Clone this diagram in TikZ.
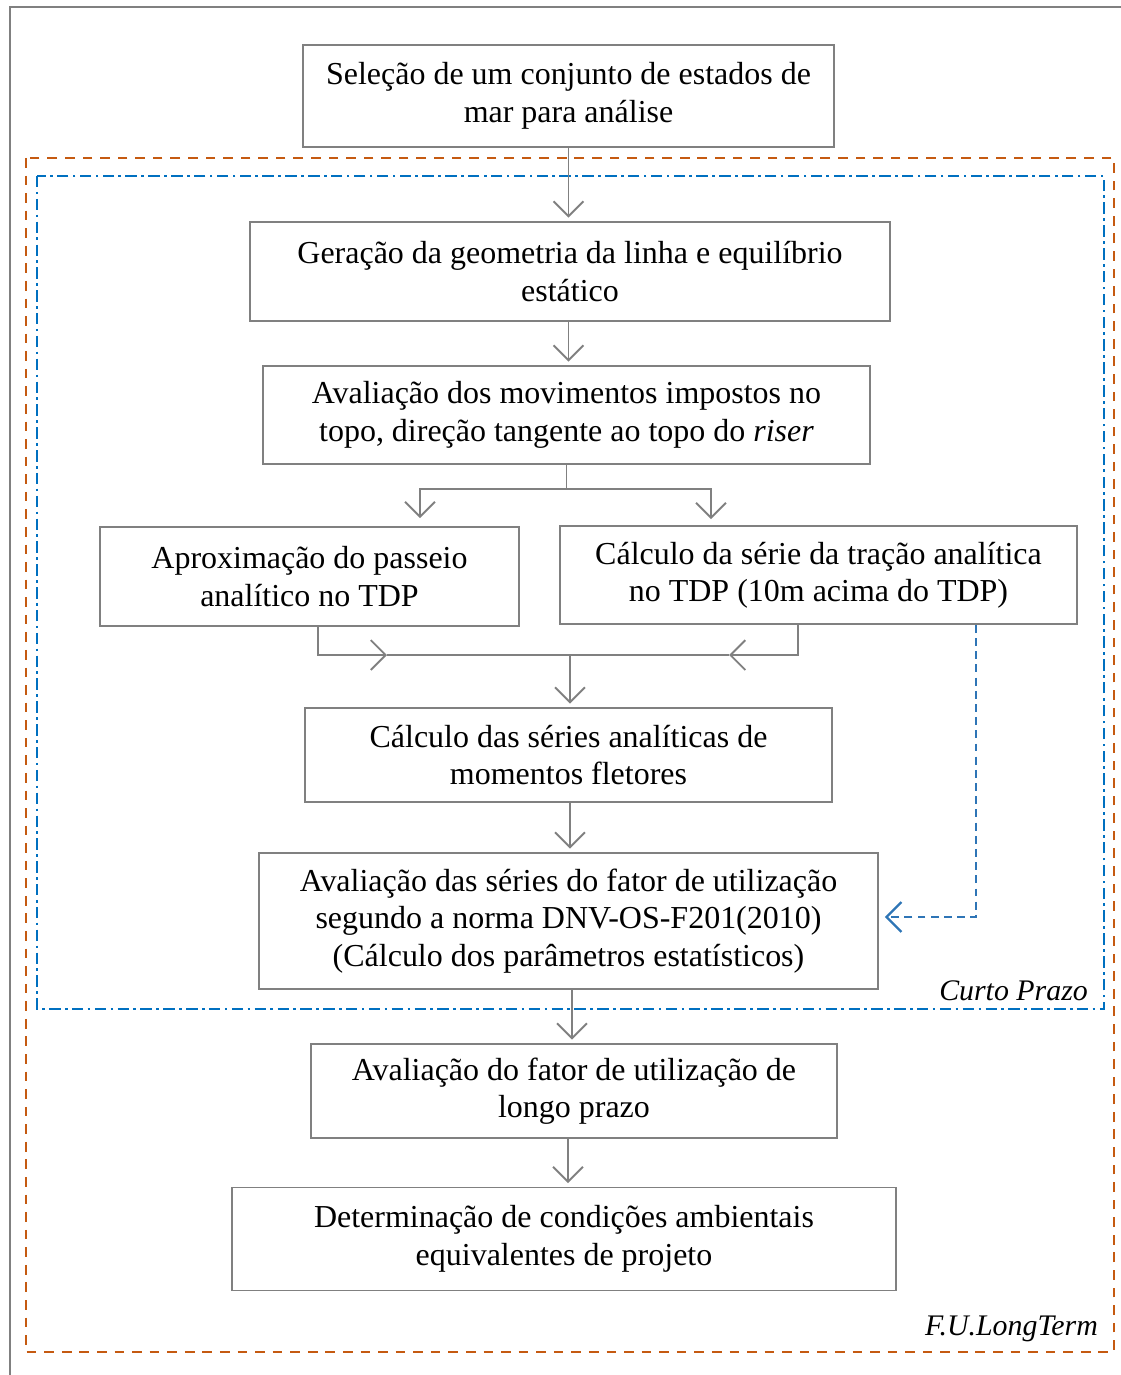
\documentclass[tikz,border=0pt]{standalone}
\usepackage{fontspec}
\setmainfont{Liberation Serif}
\usepackage{xcolor}
\definecolor{fxgray}{RGB}{128,128,128}
\definecolor{fxorange}{RGB}{197,90,17}
\definecolor{fxblue}{RGB}{0,112,192}
\definecolor{fxsteel}{RGB}{46,117,182}
\usetikzlibrary{arrows.meta,positioning,calc}
\tikzset{
  stepbox/.style={draw=fxgray, line width=1.1pt, fill=white, align=center, inner sep=2pt,
    font=\fontsize{18.2}{21.3}\selectfont},
  link/.style={draw=fxgray, line width=1.1pt},
  arr/.style={link, -{Straight Barb[length=8.5pt,width=17pt,line width=1.1pt]}, shorten >=2pt},
  fback/.style={draw=fxsteel, line width=1.3pt, dash pattern=on 4.5pt off 3pt,
    -{Straight Barb[length=8.5pt,width=17pt,line width=1.3pt]}},
  tag/.style={anchor=base east, font=\fontsize{17}{21}\selectfont\itshape}
}
\begin{document}
\begin{tikzpicture}[x=0.02cm, y=-0.02cm]
  \useasboundingbox (0,0) rectangle (1121,1375);

  % Page frame
  \draw[fxgray, line width=1.1pt] (10,1375) -- (10,7) -- (1121,7);

  % Long term and short term regions
  \draw[fxorange, line width=1.4pt, dash pattern=on 5.5pt off 4.5pt] (26,158) rectangle (1114,1352);
  \draw[fxblue, line width=1.3pt, dash pattern=on 6.5pt off 2.5pt on 1.5pt off 2.5pt] (37,176) rectangle (1104,1009);

  % Step boxes
  \node[stepbox, minimum width=10.62cm, minimum height=2.04cm] (s1) at (568.5,96) {Seleção de um conjunto de estados de\\mar para análise};
  \node[stepbox, minimum width=12.8cm, minimum height=1.98cm] (s2) at (570,271.5) {Geração da geometria da linha e equilíbrio\\estático};
  \node[stepbox, minimum width=12.14cm, minimum height=1.96cm] (s3) at (566.5,415) {Avaliação dos movimentos impostos no\\topo, direção tangente ao topo do \textit{riser}};
  \node[stepbox, minimum width=8.38cm, minimum height=1.98cm] (s4) at (309.5,576.5) {Aproximação do passeio\\analítico no TDP};
  \node[stepbox, minimum width=10.34cm, minimum height=1.96cm] (s5) at (818.5,575) {Cálculo da série da tração analítica\\no TDP (10m acima do TDP)};
  \node[stepbox, minimum width=10.54cm, minimum height=1.88cm] (s6) at (568.5,755) {Cálculo das séries analíticas de\\momentos fletores};
  \node[stepbox, minimum width=12.38cm, minimum height=2.72cm] (s7) at (568.5,921) {Avaliação das séries do fator de utilização\\segundo a norma DNV-OS-F201(2010)\\(Cálculo dos parâmetros estatísticos)};
  \node[stepbox, minimum width=10.52cm, minimum height=1.88cm] (s8) at (574,1091) {Avaliação do fator de utilização de\\longo prazo};
  \node[stepbox, minimum width=13.28cm, minimum height=2.06cm] (s9) at (564,1239) {Determinação de condições ambientais\\equivalentes de projeto};

  % Region labels
  \node[tag] (lcp) at (1094,1000) {Curto Prazo};
  \node[tag] (llt) at (1104,1335) {F.U.LongTerm};

  % Arrows between steps
  \draw[arr] (s1.south) -- (s1.south |- s2.north);
  \draw[arr] (s1.south |- s2.south) -- (s1.south |- s3.north);
  \coordinate (sp) at ($(s3.south)+(0,24)$);
  \draw[link] (s3.south) -- (sp);
  \draw[arr, shorten >=0pt] (sp) -| ($(s4.north)+(110.5,-8)$);
  \draw[arr, shorten >=0pt] (sp) -| ($(s5.north)+(-107.5,-6)$);

  % Merge into moment series
  \coordinate (mg) at (570,655);
  \draw[link] ($(mg)+(-183,0)$) -- ($(mg)+(159,0)$);
  \draw[arr, shorten >=0pt] ($(s4.south)+(8.5,0)$) |- ($(mg)+(-183,0)$);
  \draw[arr, shorten >=0pt] ($(s5.south)+(-20.5,0)$) |- ($(mg)+(159,0)$);
  \draw[arr] (mg) -- (mg |- s6.north);
  \draw[arr] (mg |- s6.south) -- (mg |- s7.north);
  \coordinate (lt) at (572,1000);
  \draw[arr] (lt |- s7.south) -- (lt |- s8.north);
  \coordinate (dt) at (568,1160);
  \draw[arr] (dt |- s8.south) -- (dt |- s9.north);

  % Tension series feeds utilisation
  \draw[fback] ($(s5.south)+(157.5,0)$) |- ($(s7.east)+(6,-4)$);
\end{tikzpicture}
\end{document}
